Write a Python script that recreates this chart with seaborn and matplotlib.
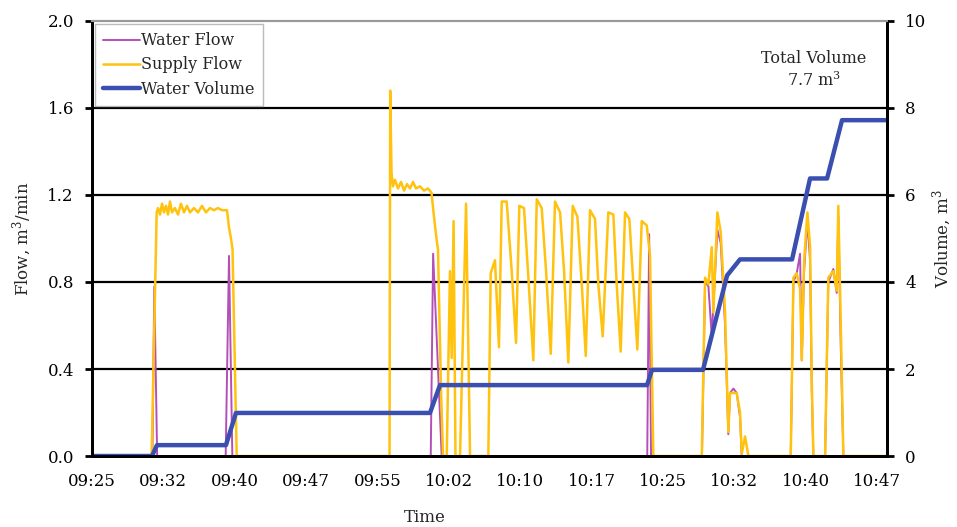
import numpy as np
import pandas as pd
import seaborn as sns
import matplotlib.pyplot as plt

# time in minutes after 09:25
tick_pos = [0, 7.5, 15, 22.5, 30, 37.5, 45, 52.5, 60, 67.5, 75, 82.5]
tick_labels = ['09:25', '09:32', '09:40', '09:47', '09:55', '10:02',
               '10:10', '10:17', '10:25', '10:32', '10:40', '10:47']

volume_t = [0, 6.31, 6.83, 14.08, 15.13, 35.52, 36.57, 58.33, 58.85, 64.21,
            66.74, 68.1, 73.57, 75.46, 77.25, 78.82, 83.55]
volume_v = [0, 0, 0.25, 0.25, 0.99, 0.99, 1.63, 1.63, 1.98, 1.98,
            4.15, 4.52, 4.52, 6.38, 6.38, 7.72, 7.72]

supply_t = [0, 6.27, 6.80, 6.94, 7.15, 7.36, 7.57, 7.78, 7.99, 8.20, 8.41, 8.72,
            9.04, 9.35, 9.67, 9.98, 10.30, 10.72, 11.14, 11.56, 11.98, 12.40,
            12.82, 13.24, 13.66, 14.19, 14.40, 14.61, 14.77, 15.21,
            31.27, 31.34, 31.48, 31.63, 31.84, 32.16, 32.48, 32.79, 33.11, 33.42,
            33.74, 34.05, 34.47, 34.89, 35.31, 35.68, 35.94, 36.23, 36.36, 36.68,
            36.89,
            37.28, 37.62, 37.80, 38.00, 38.20, 38.68, 39.31, 39.73,
            41.65, 41.90, 42.35, 42.77, 43.06, 43.58, 44.11, 44.56, 44.91, 45.40,
            45.86, 46.38, 46.74, 47.26, 47.72, 48.21, 48.66, 49.19, 49.61, 50.06,
            50.52, 51.01, 51.47, 51.89, 52.34, 52.86, 53.21, 53.67, 54.26, 54.79,
            55.14, 55.56, 56.02, 56.47, 56.89, 57.31, 57.77, 58.30, 58.64, 58.99,
            64.08, 64.43, 64.78, 65.13, 65.30, 65.72, 66.07, 66.53, 66.87, 67.05,
            67.75, 68.10, 68.28, 68.63, 68.98,
            73.43, 73.71, 74.06, 74.41, 74.59, 74.83, 75.18, 75.46, 75.64, 75.81,
            77.04, 77.38, 77.91, 78.26, 78.43, 78.69, 78.96, 83.55]
supply_q = [0, 0, 1.12, 1.14, 1.11, 1.16, 1.12, 1.15, 1.11, 1.17, 1.12, 1.14,
            1.11, 1.16, 1.12, 1.15, 1.12, 1.14, 1.12, 1.15, 1.12, 1.14,
            1.13, 1.14, 1.13, 1.13, 1.05, 1.00, 0.95, 0,
            0, 1.68, 1.30, 1.24, 1.27, 1.23, 1.26, 1.22, 1.25, 1.23,
            1.26, 1.23, 1.24, 1.22, 1.23, 1.21, 1.10, 0.99, 0.95, 0.30,
            0,
            0, 0.85, 0.45, 1.08, 0, 0, 1.16, 0,
            0, 0.84, 0.90, 0.50, 1.17, 1.17, 0.85, 0.52, 1.15, 1.14,
            0.82, 0.44, 1.18, 1.14, 0.85, 0.47, 1.17, 1.12, 0.85, 0.43,
            1.15, 1.10, 0.79, 0.46, 1.13, 1.09, 0.79, 0.55, 1.12, 1.11,
            0.79, 0.48, 1.12, 1.09, 0.79, 0.49, 1.08, 1.06, 0.92, 0,
            0, 0.82, 0.79, 0.96, 0.66, 1.12, 1.03, 0.66, 0.11, 0.29,
            0.29, 0.20, 0.01, 0.09, 0,
            0, 0.82, 0.84, 0.77, 0.44, 0.89, 1.12, 0.96, 0.35, 0,
            0, 0.82, 0.85, 0.76, 1.15, 0.60, 0, 0]

water_t = [0, 6.35, 6.55, 6.85, 14.05, 14.40, 14.75, 35.60, 35.85, 36.75,
           58.35, 58.55, 58.75, 64.10, 64.43, 64.78, 65.13, 65.72, 66.07, 66.53,
           66.87, 67.05, 67.40, 67.75, 68.10, 68.28,
           73.43, 73.71, 74.06, 74.41, 74.59, 74.83, 75.18, 75.46, 75.64, 75.81,
           77.04, 77.38, 77.91, 78.26, 78.43, 78.69, 78.96, 83.55]
water_q = [0, 0, 0.78, 0, 0, 0.92, 0, 0, 0.93, 0,
           0, 1.02, 0, 0, 0.80, 0.78, 0.55, 1.04, 0.98, 0.60,
           0.10, 0.29, 0.31, 0.29, 0.18, 0,
           0, 0.80, 0.84, 0.93, 0.44, 0.85, 1.08, 0.90, 0.30, 0,
           0, 0.80, 0.86, 0.75, 1.10, 0.50, 0, 0]

df_water = pd.DataFrame({'t': water_t, 'q': water_q})
df_supply = pd.DataFrame({'t': supply_t, 'q': supply_q})
df_volume = pd.DataFrame({'t': volume_t, 'v': volume_v})

sns.set_style('white')
plt.rcParams['font.family'] = ['DejaVu Serif']
plt.rcParams['mathtext.fontset'] = 'dejavuserif'

fig = plt.figure(figsize=(9.57, 5.27), dpi=100)
ax = fig.add_axes([0.0961, 0.1347, 0.8308, 0.8255])
ax2 = ax.twinx()

sns.lineplot(data=df_water, x='t', y='q', ax=ax, color='#B44FB8', lw=1.4,
             sort=False, estimator=None, label='Water Flow', legend=False)
sns.lineplot(data=df_supply, x='t', y='q', ax=ax, color='#FFC20E', lw=1.8,
             sort=False, estimator=None, label='Supply Flow', legend=False)
sns.lineplot(data=df_volume, x='t', y='v', ax=ax2, color='#3A4FB0', lw=3.2,
             sort=False, estimator=None, label='Water Volume', legend=False)

ax.set_xlim(0, 83.55)
ax.set_ylim(0, 2.0)
ax2.set_ylim(0, 10)
ax.set_yticks([0, 0.4, 0.8, 1.2, 1.6, 2.0])
ax.set_yticklabels(['0.0', '0.4', '0.8', '1.2', '1.6', '2.0'])
ax2.set_yticks([0, 2, 4, 6, 8, 10])
ax.set_xticks(tick_pos)
ax.set_xticklabels(tick_labels)

for y in [0.4, 0.8, 1.2, 1.6]:
    ax.axhline(y, color='black', lw=1.6, zorder=0)

for a in (ax, ax2):
    a.spines['top'].set_color('#999999')
    a.spines['top'].set_linewidth(1.5)
    for s in ('left', 'right', 'bottom'):
        a.spines[s].set_color('black')
        a.spines[s].set_linewidth(2)
    a.tick_params(direction='out', length=5, width=2, labelsize=12, colors='black')

ax.tick_params(axis='x', pad=7)
ax.tick_params(axis='y', pad=8)
ax2.tick_params(axis='y', pad=8)
ax.set_xlabel('Time', fontsize=12, va='top')
ax.xaxis.set_label_coords(0.419, -0.122)
ax.set_ylabel('Flow, m$^3$/min', fontsize=12, labelpad=10)
ax2.set_ylabel('Volume, m$^3$', fontsize=12, labelpad=3)

ax2.text(0.908, 0.887, 'Total Volume\n7.7 m$^3$', transform=ax2.transAxes,
         ha='center', va='center', fontsize=11.5, linespacing=1.3)

h1, l1 = ax.get_legend_handles_labels()
h2, l2 = ax2.get_legend_handles_labels()
leg = ax2.legend(h1 + h2, l1 + l2, loc='upper left', fontsize=11.5,
                 frameon=True, fancybox=False, edgecolor='#aaaaaa',
                 borderaxespad=0.2, handlelength=2.3, handletextpad=0.1,
                 labelspacing=0.45, borderpad=0.5)
leg.get_frame().set_linewidth(1.0)

fig.savefig('out.png', dpi=100)
